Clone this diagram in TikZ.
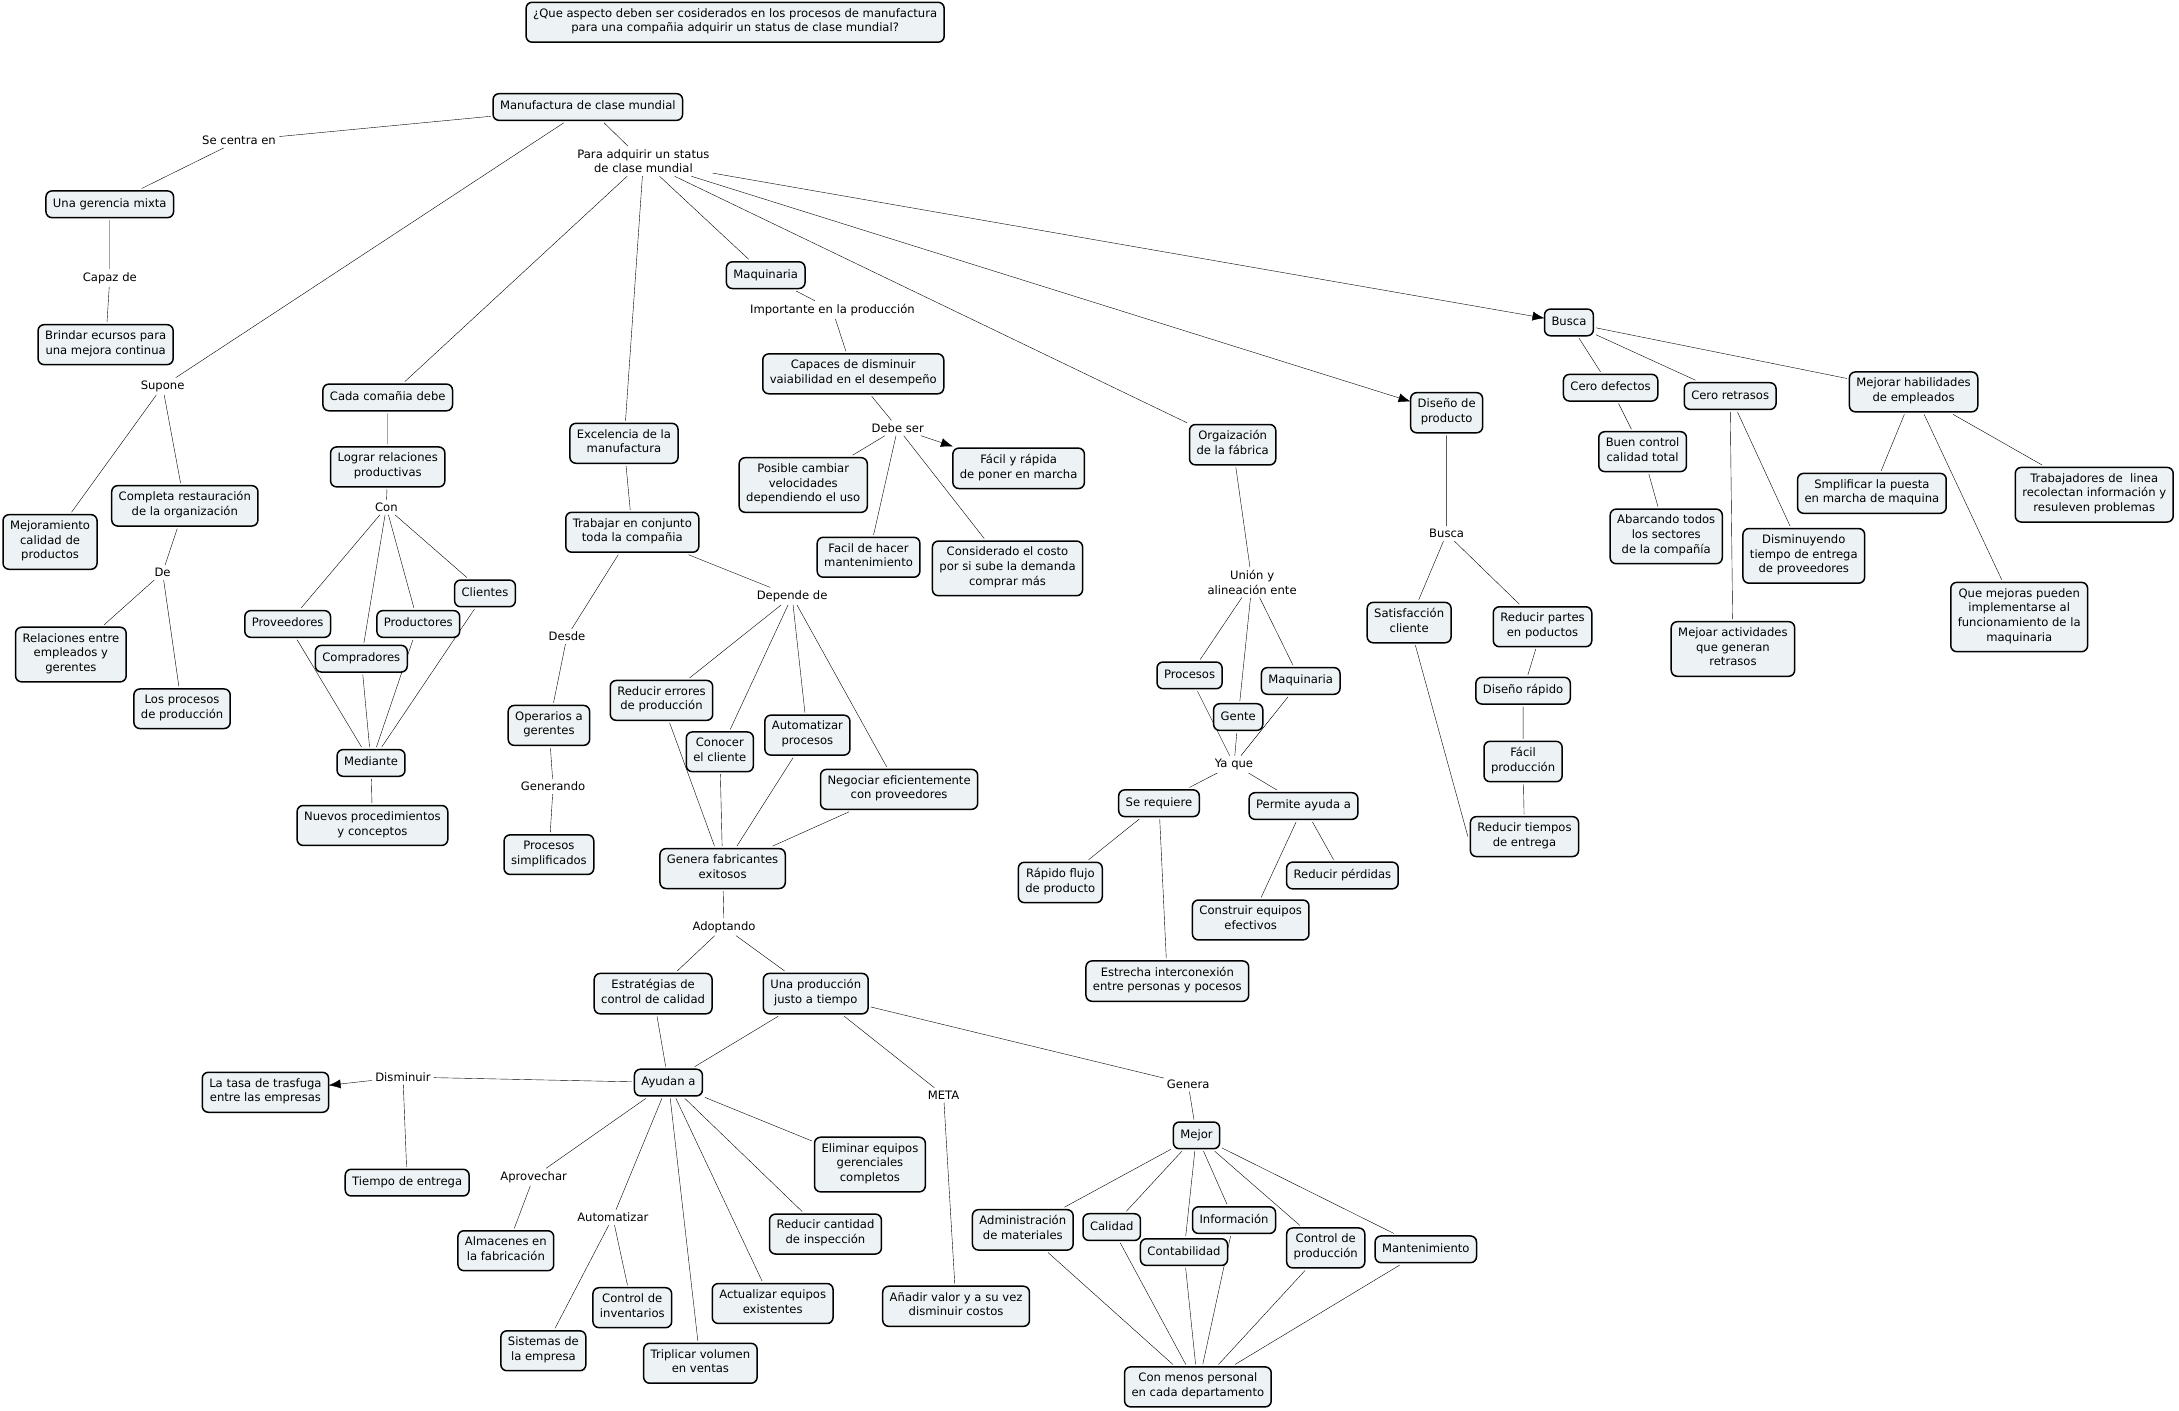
\documentclass[tikz,border=0pt]{standalone}
\usepackage{fontspec}
\setmainfont{DejaVu Sans}
\usepackage{tikz}
\usetikzlibrary{arrows.meta, backgrounds}
\definecolor{cmapfill}{RGB}{237,243,245}

\begin{document}
\begin{tikzpicture}[x=1.3897pt, y=-1.3897pt,
    font=\fontsize{11.6}{14.7}\selectfont,
    concept/.style={draw, fill=cmapfill, rounded corners=6pt, line width=1.5pt,
        align=center, inner xsep=7pt, inner ysep=6pt, outer sep=2.5pt,
        execute at begin node=\strut, execute at end node=\strut},
    linkword/.style={align=center, inner sep=3pt},
    >={Latex[length=12pt, width=9pt]}]
    \useasboundingbox (0, 0) rectangle (1568, 1015);

    % Question
    \node[concept] (q) at (529, 16) {¿Que aspecto deben ser cosiderados en los procesos de manufactura\\para una compañia adquirir un status de clase mundial?};

    % Main concept and left branch
    \node[concept] (mcm) at (423, 77) {Manufactura de clase mundial};
    \node[linkword] (secentra) at (172, 101) {Se centra en};
    \node[concept] (gerencia) at (79, 147) {Una gerencia mixta};
    \node[linkword] (capaz) at (79, 200) {Capaz de};
    \node[concept] (brindar) at (76, 248) {Brindar ecursos para\\una mejora continua};
    \node[linkword] (supone) at (117, 278) {Supone};
    \node[concept] (mejoramiento) at (36, 390) {Mejoramiento\\calidad de\\productos};
    \node[concept] (restauracion) at (133, 364) {Completa restauración\\de la organización};
    \node[linkword] (de) at (117, 412) {De};
    \node[concept] (relaciones) at (51, 471) {Relaciones entre\\empleados y\\gerentes};
    \node[concept] (procprod) at (131, 510) {Los procesos\\de producción};
    \node[linkword] (para) at (463, 116) {Para adquirir un status\\de clase mundial};

    % Relaciones productivas
    \node[concept] (cada) at (279, 286) {Cada comañia debe};
    \node[concept] (lograr) at (279, 336) {Lograr relaciones\\productivas};
    \node[linkword] (con) at (278, 365) {Con};
    \node[concept] (proveedores) at (207, 449) {Proveedores};
    \node[concept] (productores) at (301, 449) {Productores};
    \node[concept] (clientes) at (349, 427) {Clientes};
    \node[concept] (compradores) at (260, 474) {Compradores};
    \node[concept] (mediante) at (267, 549) {Mediante};
    \node[concept] (nuevos) at (268, 594) {Nuevos procedimientos\\y conceptos};

    % Excelencia de la manufactura
    \node[concept] (excelencia) at (449, 319) {Excelencia de la\\manufactura};
    \node[concept] (trabajar) at (455, 383) {Trabajar en conjunto\\toda la compañia};
    \node[linkword] (desde) at (408, 458) {Desde};
    \node[concept] (operarios) at (395, 522) {Operarios a\\gerentes};
    \node[linkword] (generando) at (398, 566) {Generando};
    \node[concept] (simplificados) at (395, 615) {Procesos\\simplificados};
    \node[linkword] (depende) at (570, 429) {Depende de};
    \node[concept] (errores) at (476, 504) {Reducir errores\\de producción};
    \node[concept] (cliente) at (518, 541) {Conocer\\el cliente};
    \node[concept] (autoproc) at (581, 529) {Automatizar\\procesos};
    \node[concept] (negociar) at (647, 568) {Negociar eficientemente\\con proveedores};
    \node[concept] (fabricantes) at (520, 625) {Genera fabricantes\\exitosos};
    \node[linkword] (adoptando) at (521, 667) {Adoptando};
    \node[concept] (estrategias) at (470, 715) {Estratégias de\\control de calidad};
    \node[concept] (justo) at (587, 715) {Una producción\\justo a tiempo};

    % Ayudan a
    \node[concept] (ayudan) at (481, 779) {Ayudan a};
    \node[linkword] (disminuir) at (290, 775) {Disminuir};
    \node[concept] (tasa) at (191, 786) {La tasa de trasfuga\\entre las empresas};
    \node[concept] (tiempo) at (293, 851) {Tiempo de entrega};
    \node[linkword] (aprovechar) at (384, 847) {Aprovechar};
    \node[concept] (almacenes) at (364, 900) {Almacenes en\\la fabricación};
    \node[linkword] (automat) at (441, 876) {Automatizar};
    \node[concept] (sistemas) at (391, 972) {Sistemas de\\la empresa};
    \node[concept] (inventarios) at (455, 941) {Control de\\inventarios};
    \node[concept] (triplicar) at (504, 981) {Triplicar volumen\\en ventas};
    \node[concept] (actualizar) at (556, 938) {Actualizar equipos\\existentes};
    \node[concept] (inspeccion) at (594, 888) {Reducir cantidad\\de inspección};
    \node[concept] (eliminar) at (626, 838) {Eliminar equipos\\gerenciales\\completos};
    \node[linkword] (meta) at (679, 788) {META};
    \node[concept] (valor) at (688, 940) {Añadir valor y a su vez\\disminuir costos};

    % Mejor
    \node[linkword] (genera) at (855, 780) {Genera};
    \node[concept] (mejor) at (861, 817) {Mejor};
    \node[concept] (materiales) at (736, 885) {Administración\\de materiales};
    \node[concept] (calidad) at (800, 883) {Calidad};
    \node[concept] (contabilidad) at (852, 901) {Contabilidad};
    \node[concept] (informacion) at (888, 878) {Información};
    \node[concept] (controlprod) at (954, 898) {Control de\\producción};
    \node[concept] (mantenimiento) at (1026, 899) {Mantenimiento};
    \node[concept] (personal) at (862, 998) {Con menos personal\\en cada departamento};

    % Maquinaria
    \node[concept] (maquinaria) at (551, 198) {Maquinaria};
    \node[linkword] (importante) at (599, 223) {Importante en la producción};
    \node[concept] (capaces) at (614, 269) {Capaces de disminuir\\vaiabilidad en el desempeño};
    \node[linkword] (debeser) at (646, 308) {Debe ser};
    \node[concept] (velocidades) at (578, 349) {Posible cambiar\\velocidades\\dependiendo el uso};
    \node[concept] (facil) at (733, 337) {Fácil y rápida\\de poner en marcha};
    \node[concept] (mantener) at (625, 401) {Facil de hacer\\mantenimiento};
    \node[concept] (costo) at (725, 409) {Considerado el costo\\por si sube la demanda\\comprar más};

    % Organizacion de la fabrica
    \node[concept] (fabrica) at (887, 320) {Orgaización\\de la fábrica};
    \node[linkword] (union) at (901, 419) {Unión y\\alineación ente};
    \node[concept] (procesos) at (856, 486) {Procesos};
    \node[concept] (gente) at (891, 516) {Gente};
    \node[concept] (maquinaria2) at (936, 490) {Maquinaria};
    \node[linkword] (yaque) at (888, 550) {Ya que};
    \node[concept] (requiere) at (834, 578) {Se requiere};
    \node[concept] (permite) at (938, 580) {Permite ayuda a};
    \node[concept] (flujo) at (763, 635) {Rápido flujo\\de producto};
    \node[concept] (interconexion) at (840, 706) {Estrecha interconexión\\entre personas y pocesos};
    \node[concept] (equipos) at (900, 662) {Construir equipos\\efectivos};
    \node[concept] (perdidas) at (966, 630) {Reducir pérdidas};

    % Diseno de producto
    \node[concept] (diseno) at (1041, 297) {Diseño de\\producto};
    \node[linkword] (busca2) at (1041, 384) {Busca};
    \node[concept] (satisfaccion) at (1014, 448) {Satisfacción\\cliente};
    \node[concept] (partes) at (1110, 451) {Reducir partes\\en poductos};
    \node[concept] (rapido) at (1096, 497) {Diseño rápido};
    \node[concept] (facilprod) at (1096, 548) {Fácil\\producción};
    \node[concept] (entrega) at (1097, 602) {Reducir tiempos\\de entrega};

    % Busca
    \node[concept] (busca) at (1129, 232) {Busca};
    \node[concept] (defectos) at (1159, 279) {Cero defectos};
    \node[concept] (retrasos) at (1245, 285) {Cero retrasos};
    \node[concept] (habilidades) at (1377, 282) {Mejorar habilidades\\de empleados};
    \node[concept] (buen) at (1182, 325) {Buen control\\calidad total};
    \node[concept] (abarcando) at (1199, 386) {Abarcando todos\\los sectores\\de la compañía};
    \node[concept] (disminuyendo) at (1298, 400) {Disminuyendo\\tiempo de entrega\\de proveedores};
    \node[concept] (actividades) at (1247, 467) {Mejoar actividades\\que generan\\retrasos};
    \node[concept] (smplificar) at (1347, 355) {Smplificar la puesta\\en marcha de maquina};
    \node[concept] (trabajadores) at (1507, 356) {Trabajadores de~ linea\\recolectan información y\\resuleven problemas};
    \node[concept] (mejoras) at (1453, 444) {Que mejoras pueden\\implementarse al\\funcionamiento de la\\maquinaria};

    % Links
    \begin{scope}[on background layer, line width=1.5pt]
        \fill[white] (0, 0) rectangle (1568, 1015);

        \draw (mcm) -- (secentra) (secentra) -- (gerencia);
        \draw (gerencia) -- (capaz) (capaz) -- (brindar);
        \draw (mcm) -- (supone) (supone) -- (mejoramiento) (supone) -- (restauracion);
        \draw (restauracion) -- (de) (de) -- (relaciones) (de) -- (procprod);
        \draw (mcm) -- (para);

        \draw (para) -- (cada) (cada) -- (lograr) (lograr) -- (con);
        \draw (con) -- (proveedores) (con) -- (compradores) (con) -- (productores) (con) -- (clientes);
        \draw (proveedores) -- (mediante) (compradores) -- (mediante) (productores) -- (mediante) (clientes) -- (mediante);
        \draw (mediante) -- (nuevos);

        \draw (para) -- (excelencia) (excelencia) -- (trabajar);
        \draw (trabajar) -- (desde) (desde) -- (operarios) (operarios) -- (generando) (generando) -- (simplificados);
        \draw (trabajar) -- (depende);
        \draw (depende) -- (errores) (depende) -- (cliente) (depende) -- (autoproc) (depende) -- (negociar);
        \draw (errores) -- (fabricantes) (cliente) -- (fabricantes) (autoproc) -- (fabricantes) (negociar) -- (fabricantes);
        \draw (fabricantes) -- (adoptando) (adoptando) -- (estrategias) (adoptando) -- (justo);
        \draw (estrategias) -- (ayudan) (justo) -- (ayudan) (justo) -- (meta) (justo) -- (genera);

        \draw (ayudan) -- (disminuir) (disminuir) -- (tiempo);
        \draw[->, shorten >=-2.5pt] (disminuir) -- (tasa);
        \draw (ayudan) -- (aprovechar) (aprovechar) -- (almacenes);
        \draw (ayudan) -- (automat) (automat) -- (sistemas) (automat) -- (inventarios);
        \draw (ayudan) -- (triplicar) (ayudan) -- (actualizar) (ayudan) -- (inspeccion) (ayudan) -- (eliminar);
        \draw (meta) -- (valor);

        \draw (genera) -- (mejor);
        \draw (mejor) -- (materiales) (mejor) -- (calidad) (mejor) -- (contabilidad);
        \draw (mejor) -- (informacion) (mejor) -- (controlprod) (mejor) -- (mantenimiento);
        \draw (materiales) -- (personal) (calidad) -- (personal) (contabilidad) -- (personal);
        \draw (informacion) -- (personal) (controlprod) -- (personal) (mantenimiento) -- (personal);

        \draw (para) -- (maquinaria) (maquinaria) -- (importante) (importante) -- (capaces);
        \draw (capaces) -- (debeser) (debeser) -- (velocidades) (debeser) -- (mantener) (debeser) -- (costo);
        \draw[->, shorten >=-2.5pt] (debeser) -- (facil);

        \draw (para) -- (fabrica) (fabrica) -- (union);
        \draw (union) -- (procesos) (union) -- (gente) (union) -- (maquinaria2);
        \draw (procesos) -- (yaque) (gente) -- (yaque) (maquinaria2) -- (yaque);
        \draw (yaque) -- (requiere) (yaque) -- (permite);
        \draw (requiere) -- (flujo) (requiere) -- (interconexion);
        \draw (permite) -- (equipos) (permite) -- (perdidas);

        \draw[->, shorten >=-2.5pt] (para) -- (diseno);
        \draw (diseno) -- (busca2) (busca2) -- (satisfaccion) (busca2) -- (partes);
        \draw (satisfaccion) -- (entrega.west) (partes) -- (rapido) (rapido) -- (facilprod) (facilprod) -- (entrega);

        \draw[->, shorten >=-2.5pt] (para) -- (busca);
        \draw (busca) -- (defectos) (busca) -- (retrasos) (busca) -- (habilidades);
        \draw (defectos) -- (buen) (buen) -- (abarcando);
        \draw (retrasos) -- (disminuyendo) (retrasos) -- (actividades);
        \draw (habilidades) -- (smplificar) (habilidades) -- (mejoras) (habilidades) -- (trabajadores);
    \end{scope}
\end{tikzpicture}
\end{document}
